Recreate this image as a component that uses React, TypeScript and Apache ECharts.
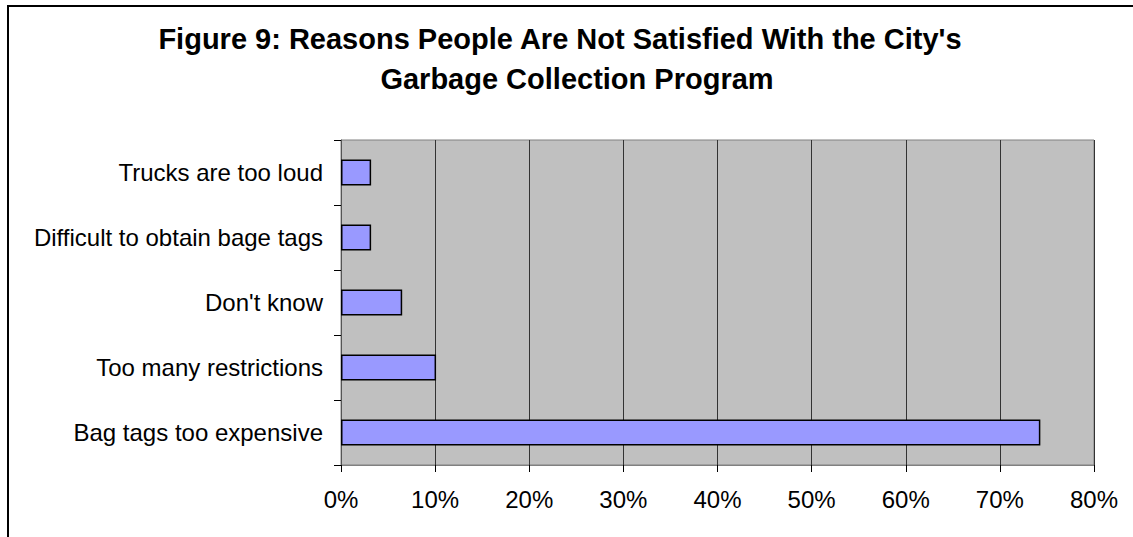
import React, { useEffect, useRef } from "react";
import * as echarts from "echarts";

const titleLines = [
  "Figure 9: Reasons People Are Not Satisfied With the City's",
  "Garbage Collection Program",
];
const categories = [
  "Bag tags too expensive",
  "Too many restrictions",
  "Don't know",
  "Difficult to obtain bage tags",
  "Trucks are too loud",
];
const values = [74.3, 10.1, 6.5, 3.2, 3.2];
const xMin = 0;
const xMax = 80;
const xInterval = 10;

const FONT = "'Liberation Sans', Arial, sans-serif";

export default function App() {
  const ref = useRef<HTMLDivElement>(null);
  useEffect(() => {
    if (!ref.current) return;
    const chart = echarts.init(ref.current, undefined, { renderer: "svg" });
    chart.setOption({
      animation: false,
      backgroundColor: "#ffffff",
      graphic: [
        {
          type: "rect",
          shape: { x: 8, y: 6, width: 1400, height: 800 },
          style: { fill: "none", stroke: "#000", lineWidth: 2 },
          silent: true,
        },
        {
          type: "text",
          x: 560,
          y: 53,
          style: {
            text: titleLines[0],
            font: `bold 29px ${FONT}`,
            fill: "#000",
            textAlign: "center",
            textVerticalAlign: "bottom",
          },
        },
        {
          type: "text",
          x: 577,
          y: 93,
          style: {
            text: titleLines[1],
            font: `bold 29px ${FONT}`,
            fill: "#000",
            textAlign: "center",
            textVerticalAlign: "bottom",
          },
        },
      ],
      grid: {
        left: 341,
        right: 39,
        top: 140,
        bottom: 72,
        show: true,
        backgroundColor: "#C0C0C0",
        borderColor: "#808080",
        borderWidth: 1,
      },
      xAxis: {
        type: "value",
        min: xMin,
        max: xMax,
        interval: xInterval,
        axisLine: { show: true, lineStyle: { color: "#808080", width: 1 } },
        axisTick: { show: true, length: 7, lineStyle: { color: "#000" } },
        splitLine: { show: true, lineStyle: { color: "#333", width: 1 } },
        axisLabel: {
          formatter: "{value}%",
          color: "#000",
          fontFamily: FONT,
          fontSize: 24,
          margin: 22,
        },
      },
      yAxis: {
        type: "category",
        data: categories,
        axisLine: { show: true, lineStyle: { color: "#555", width: 1 } },
        axisTick: { show: true, length: 7, lineStyle: { color: "#000" } },
        axisLabel: {
          color: "#000",
          fontFamily: FONT,
          fontSize: 24,
          margin: 18,
        },
      },
      series: [
        {
          type: "bar",
          data: values,
          barCategoryGap: "60%",
          itemStyle: { color: "#9999FF", borderColor: "#000", borderWidth: 1.5 },
        },
      ],
    });
    return () => chart.dispose();
  }, []);
  return (
    <div
      ref={ref}
      style={{ position: "fixed", left: 0, top: 0, width: 1133, height: 537 }}
    />
  );
}
